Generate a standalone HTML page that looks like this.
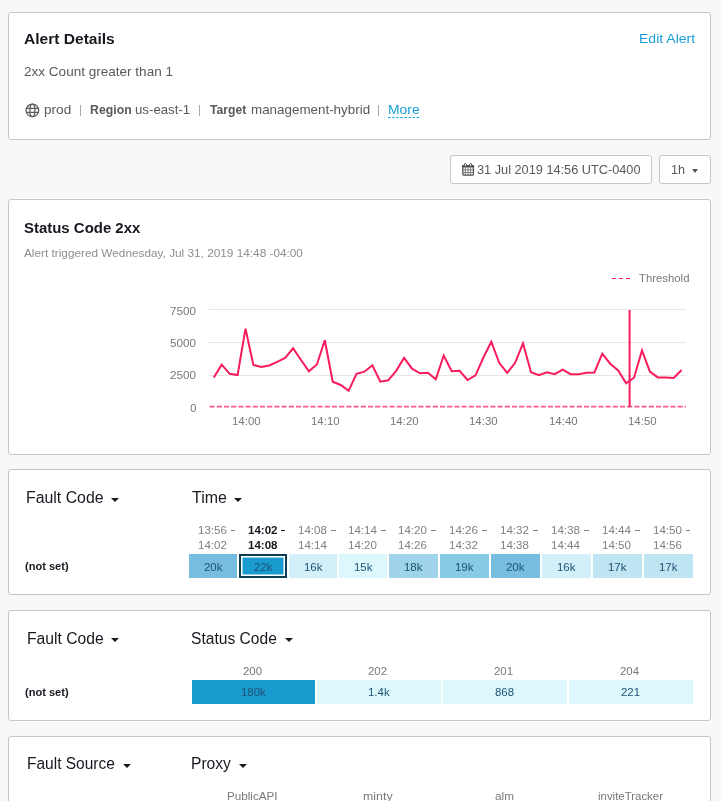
<!DOCTYPE html>
<html><head><meta charset="utf-8"><style>
html,body{margin:0;padding:0;}
body{width:721px;height:801px;overflow:hidden;background:#f7f8f8;position:relative;font-family:"Liberation Sans",sans-serif;}
.t{position:absolute;line-height:1;white-space:nowrap;}
</style></head><body><div id="root" style="position:absolute;left:0;top:0;width:721px;height:801px;will-change:transform">
<div style="position:absolute;left:8px;top:12px;width:703px;height:128px;background:#fff;border:1px solid #c6c6c6;border-radius:3px;box-sizing:border-box;"></div>
<div style="position:absolute;left:8px;top:199px;width:703px;height:256px;background:#fff;border:1px solid #c6c6c6;border-radius:3px;box-sizing:border-box;"></div>
<div style="position:absolute;left:8px;top:469px;width:703px;height:126px;background:#fff;border:1px solid #c6c6c6;border-radius:3px;box-sizing:border-box;"></div>
<div style="position:absolute;left:8px;top:610px;width:703px;height:111px;background:#fff;border:1px solid #c6c6c6;border-radius:3px;box-sizing:border-box;"></div>
<div style="position:absolute;left:8px;top:736px;width:703px;height:100px;background:#fff;border:1px solid #c6c6c6;border-radius:3px;box-sizing:border-box;"></div>
<div class="t" style="left:23.69px;top:31.25px;font-size:15px;color:#16191f;font-weight:700;transform:scaleX(1.0370);transform-origin:0 0;">Alert Details</div>
<div class="t" style="left:638.81px;top:32.25px;font-size:13px;color:#1a9fd6;transform:scaleX(1.0787);transform-origin:0 0;">Edit Alert</div>
<div class="t" style="left:23.63px;top:65.25px;font-size:13px;color:#595959;transform:scaleX(1.0412);transform-origin:0 0;">2xx Count greater than 1</div>
<svg style="position:absolute;left:22px;top:101px" width="20" height="20" viewBox="0 0 20 20"><g fill="none" stroke="#5a5a5a" stroke-width="1.25"><circle cx="10.4" cy="9.4" r="6.3"/><ellipse cx="10.4" cy="9.4" rx="2.5" ry="6.3"/><line x1="4.3" y1="7.4" x2="16.5" y2="7.4"/><line x1="4.3" y1="11.4" x2="16.5" y2="11.4"/></g></svg>
<div class="t" style="left:44.16px;top:103.25px;font-size:13px;color:#595959;transform:scaleX(1.0451);transform-origin:0 0;">prod</div>
<div style="position:absolute;left:80px;top:104.5px;width:1px;height:11.5px;background:#a9a9a9;"></div>
<div class="t" style="left:89.65px;top:103.25px;font-size:13px;color:#595959;font-weight:700;transform:scaleX(0.9456);transform-origin:0 0;">Region</div>
<div class="t" style="left:134.94px;top:103.25px;font-size:13px;color:#595959;transform:scaleX(1.0180);transform-origin:0 0;">us-east-1</div>
<div style="position:absolute;left:199px;top:104.5px;width:1px;height:11.5px;background:#a9a9a9;"></div>
<div class="t" style="left:209.91px;top:103.25px;font-size:13px;color:#595959;font-weight:700;transform:scaleX(0.9351);transform-origin:0 0;">Target</div>
<div class="t" style="left:250.77px;top:103.25px;font-size:13px;color:#595959;transform:scaleX(1.0299);transform-origin:0 0;">management-hybrid</div>
<div style="position:absolute;left:378px;top:104.5px;width:1px;height:11.5px;background:#a9a9a9;"></div>
<div class="t" style="left:387.82px;top:103.25px;font-size:13px;color:#1a9fd6;transform:scaleX(1.0714);transform-origin:0 0;">More</div>
<svg style="position:absolute;left:0;top:0" width="721" height="130"><line x1="388" y1="117.5" x2="419.5" y2="117.5" stroke="#16a8e6" stroke-width="1.2" stroke-dasharray="2.5,1.6"/></svg>
<div style="position:absolute;left:450px;top:155px;width:202px;height:29px;background:#fff;border:1px solid #c6c6c6;border-radius:3px;box-sizing:border-box;"></div>
<div style="position:absolute;left:659px;top:155px;width:52px;height:29px;background:#fff;border:1px solid #c6c6c6;border-radius:3px;box-sizing:border-box;"></div>
<svg style="position:absolute;left:459px;top:160px" width="20" height="20" viewBox="0 0 20 20"><g stroke="#4a4a4a" fill="none"><rect x="3.8" y="5.6" width="10.6" height="9.6" rx="1" stroke-width="1.2"/><g stroke-width="0.8" stroke="#666"><line x1="3.8" y1="9.8" x2="14.4" y2="9.8"/><line x1="3.8" y1="12.5" x2="14.4" y2="12.5"/><line x1="6.3" y1="7.5" x2="6.3" y2="15.2"/><line x1="9.0" y1="7.5" x2="9.0" y2="15.2"/><line x1="11.6" y1="7.5" x2="11.6" y2="15.2"/></g></g><rect x="3.2" y="5.0" width="11.8" height="2.6" fill="#4a4a4a" rx="0.8"/><ellipse cx="6.4" cy="5.0" rx="1.0" ry="1.6" fill="#fff" stroke="#4a4a4a" stroke-width="0.9"/><ellipse cx="11.7" cy="5.0" rx="1.0" ry="1.6" fill="#fff" stroke="#4a4a4a" stroke-width="0.9"/></svg>
<div class="t" style="left:477.01px;top:163.25px;font-size:13px;color:#595959;transform:scaleX(0.9795);transform-origin:0 0;">31 Jul 2019 14:56 UTC-0400</div>
<div class="t" style="left:670.83px;top:163.25px;font-size:13px;color:#595959;transform:scaleX(0.9683);transform-origin:0 0;">1h</div>
<div style="position:absolute;left:692px;top:169px;width:0;height:0;border-left:3.5px solid transparent;border-right:3.5px solid transparent;border-top:4px solid #555"></div>
<div class="t" style="left:23.80px;top:220.25px;font-size:15px;color:#16191f;font-weight:700;transform:scaleX(0.9966);transform-origin:0 0;">Status Code 2xx</div>
<div class="t" style="left:24.00px;top:247.75px;font-size:11px;color:#8a8f92;transform:scaleX(1.0724);transform-origin:0 0;">Alert triggered Wednesday, Jul 31, 2019 14:48 -04:00</div>
<div class="t" style="left:639.09px;top:272.75px;font-size:11px;color:#767879;transform:scaleX(1.0312);transform-origin:0 0;">Threshold</div>
<svg style="position:absolute;left:0;top:0" width="721" height="801">
<g stroke="#e6e6e6" stroke-width="1">
<line x1="209" y1="309.5" x2="686" y2="309.5"/><line x1="209" y1="342.5" x2="686" y2="342.5"/><line x1="209" y1="375.5" x2="686" y2="375.5"/>
</g>
<line x1="209.5" y1="406.6" x2="686" y2="406.6" stroke="#f91c5c" stroke-width="1.6" stroke-dasharray="5.2,2" opacity="0.72"/>
<line x1="611.8" y1="278.5" x2="630.5" y2="278.5" stroke="#f91c5c" stroke-width="1.2" stroke-dasharray="4,3.1"/>
<polyline points="213.8,377.5 221.7,364.7 229.7,373.8 237.6,375 245.5,328.7 253.4,365 261.4,367 269.3,365.5 277.2,361.8 285.2,358 293.1,348.3 301.0,360 308.9,371.3 316.9,364.5 324.8,340.3 332.7,381.7 340.7,385 348.6,390.8 356.5,373.8 364.5,371.7 372.4,365.3 380.3,381.7 388.2,380.3 396.2,370.8 404.1,357.8 412.0,368.7 420.0,373.3 427.9,372.8 435.8,379.2 443.7,355.5 451.7,371.3 459.6,370.8 467.5,380 475.5,375.3 483.4,357.5 491.3,341.7 499.2,362.8 507.2,372.8 515.1,362.8 523.0,343.3 531.0,372.2 538.9,375.2 546.8,372.2 554.7,374.2 562.7,369.7 570.6,374.2 578.5,374.2 586.5,372.8 594.4,372.5 602.3,353.7 610.2,363.7 618.2,370.5 626.1,383.3 634.0,377.7 642.0,350.5 649.9,371.5 657.8,377.4 665.8,377.6 673.7,378 681.6,370" fill="none" stroke="#f91c5c" stroke-width="2" stroke-linejoin="miter"/>
<line x1="629.6" y1="310" x2="629.6" y2="407" stroke="#f91c5c" stroke-width="2"/>
</svg>
<div class="t" style="left:170.45px;top:305.75px;font-size:11px;color:#767879;transform:scaleX(1.0600);transform-origin:0 0;">7500</div>
<div class="t" style="left:170.45px;top:337.75px;font-size:11px;color:#767879;transform:scaleX(1.0600);transform-origin:0 0;">5000</div>
<div class="t" style="left:170.45px;top:369.75px;font-size:11px;color:#767879;transform:scaleX(1.0600);transform-origin:0 0;">2500</div>
<div class="t" style="left:190.30px;top:402.75px;font-size:11px;color:#767879;">0</div>
<div class="t" style="left:231.59px;top:415.75px;font-size:11px;color:#767879;transform:scaleX(1.0400);transform-origin:0 0;">14:00</div>
<div class="t" style="left:310.88px;top:415.75px;font-size:11px;color:#767879;transform:scaleX(1.0400);transform-origin:0 0;">14:10</div>
<div class="t" style="left:390.17px;top:415.75px;font-size:11px;color:#767879;transform:scaleX(1.0400);transform-origin:0 0;">14:20</div>
<div class="t" style="left:469.46px;top:415.75px;font-size:11px;color:#767879;transform:scaleX(1.0400);transform-origin:0 0;">14:30</div>
<div class="t" style="left:548.75px;top:415.75px;font-size:11px;color:#767879;transform:scaleX(1.0400);transform-origin:0 0;">14:40</div>
<div class="t" style="left:628.04px;top:415.75px;font-size:11px;color:#767879;transform:scaleX(1.0400);transform-origin:0 0;">14:50</div>
<div class="t" style="left:26.41px;top:489.75px;font-size:16px;color:#16191f;transform:scaleX(0.9908);transform-origin:0 0;">Fault Code</div>
<div class="t" style="left:191.70px;top:489.75px;font-size:16px;color:#16191f;transform:scaleX(0.9941);transform-origin:0 0;">Time</div>
<div style="position:absolute;left:111.3px;top:498px;width:0;height:0;border-left:4.0px solid transparent;border-right:4.0px solid transparent;border-top:4.2px solid #16191f"></div>
<div style="position:absolute;left:234px;top:498px;width:0;height:0;border-left:4.0px solid transparent;border-right:4.0px solid transparent;border-top:4.2px solid #16191f"></div>
<div class="t" style="left:25.30px;top:560.75px;font-size:11px;color:#16191f;font-weight:700;transform:scaleX(1.0047);transform-origin:0 0;">(not set)</div>
<div style="position:absolute;left:189px;top:554px;width:48px;height:24px;background:#76bde0;"></div>
<div class="t" style="left:197.66px;top:524.75px;font-size:11px;color:#7d8183;transform:scaleX(1.0500);transform-origin:0 0;">13:56</div>
<div style="position:absolute;left:230.8px;top:530px;width:4.5px;height:1px;background:#7d8183;"></div>
<div class="t" style="left:197.66px;top:539.75px;font-size:11px;color:#7d8183;transform:scaleX(1.0500);transform-origin:0 0;">14:02</div>
<div class="t" style="left:203.54px;top:561.75px;font-size:11px;color:#1d5272;transform:scaleX(1.0400);transform-origin:0 0;">20k</div>
<div style="position:absolute;left:239px;top:554px;width:48.2px;height:24px;background:#1a9bd0;"></div>
<div class="t" style="left:247.76px;top:524.75px;font-size:11px;color:#16191f;font-weight:700;transform:scaleX(1.0500);transform-origin:0 0;">14:02</div>
<div style="position:absolute;left:280.8px;top:529.8px;width:4.5px;height:1.6px;background:#16191f;"></div>
<div class="t" style="left:247.76px;top:539.75px;font-size:11px;color:#16191f;font-weight:700;transform:scaleX(1.0500);transform-origin:0 0;">14:08</div>
<div class="t" style="left:253.64px;top:561.75px;font-size:11px;color:#1d5272;transform:scaleX(1.0400);transform-origin:0 0;">22k</div>
<div style="position:absolute;left:289.3px;top:554px;width:47.7px;height:24px;background:#d3effa;"></div>
<div class="t" style="left:297.96px;top:524.75px;font-size:11px;color:#7d8183;transform:scaleX(1.0500);transform-origin:0 0;">14:08</div>
<div style="position:absolute;left:331.1px;top:530px;width:4.5px;height:1px;background:#7d8183;"></div>
<div class="t" style="left:297.96px;top:539.75px;font-size:11px;color:#7d8183;transform:scaleX(1.0500);transform-origin:0 0;">14:14</div>
<div class="t" style="left:303.53px;top:561.75px;font-size:11px;color:#1d5272;transform:scaleX(1.0400);transform-origin:0 0;">16k</div>
<div style="position:absolute;left:339.2px;top:554px;width:48.0px;height:24px;background:#ddf8fd;"></div>
<div class="t" style="left:347.86px;top:524.75px;font-size:11px;color:#7d8183;transform:scaleX(1.0500);transform-origin:0 0;">14:14</div>
<div style="position:absolute;left:381.0px;top:530px;width:4.5px;height:1px;background:#7d8183;"></div>
<div class="t" style="left:347.86px;top:539.75px;font-size:11px;color:#7d8183;transform:scaleX(1.0500);transform-origin:0 0;">14:20</div>
<div class="t" style="left:353.58px;top:561.75px;font-size:11px;color:#1d5272;transform:scaleX(1.0400);transform-origin:0 0;">15k</div>
<div style="position:absolute;left:389.2px;top:554px;width:48.8px;height:24px;background:#9ed3ea;"></div>
<div class="t" style="left:397.86px;top:524.75px;font-size:11px;color:#7d8183;transform:scaleX(1.0500);transform-origin:0 0;">14:20</div>
<div style="position:absolute;left:431.0px;top:530px;width:4.5px;height:1px;background:#7d8183;"></div>
<div class="t" style="left:397.86px;top:539.75px;font-size:11px;color:#7d8183;transform:scaleX(1.0500);transform-origin:0 0;">14:26</div>
<div class="t" style="left:403.98px;top:561.75px;font-size:11px;color:#1d5272;transform:scaleX(1.0400);transform-origin:0 0;">18k</div>
<div style="position:absolute;left:440.3px;top:554px;width:48.5px;height:24px;background:#88c9e6;"></div>
<div class="t" style="left:448.96px;top:524.75px;font-size:11px;color:#7d8183;transform:scaleX(1.0500);transform-origin:0 0;">14:26</div>
<div style="position:absolute;left:482.1px;top:530px;width:4.5px;height:1px;background:#7d8183;"></div>
<div class="t" style="left:448.96px;top:539.75px;font-size:11px;color:#7d8183;transform:scaleX(1.0500);transform-origin:0 0;">14:32</div>
<div class="t" style="left:454.93px;top:561.75px;font-size:11px;color:#1d5272;transform:scaleX(1.0400);transform-origin:0 0;">19k</div>
<div style="position:absolute;left:491.3px;top:554px;width:48.7px;height:24px;background:#76bde0;"></div>
<div class="t" style="left:499.96px;top:524.75px;font-size:11px;color:#7d8183;transform:scaleX(1.0500);transform-origin:0 0;">14:32</div>
<div style="position:absolute;left:533.1px;top:530px;width:4.5px;height:1px;background:#7d8183;"></div>
<div class="t" style="left:499.96px;top:539.75px;font-size:11px;color:#7d8183;transform:scaleX(1.0500);transform-origin:0 0;">14:38</div>
<div class="t" style="left:506.19px;top:561.75px;font-size:11px;color:#1d5272;transform:scaleX(1.0400);transform-origin:0 0;">20k</div>
<div style="position:absolute;left:542.3px;top:554px;width:48.7px;height:24px;background:#d3effa;"></div>
<div class="t" style="left:550.96px;top:524.75px;font-size:11px;color:#7d8183;transform:scaleX(1.0500);transform-origin:0 0;">14:38</div>
<div style="position:absolute;left:584.1px;top:530px;width:4.5px;height:1px;background:#7d8183;"></div>
<div class="t" style="left:550.96px;top:539.75px;font-size:11px;color:#7d8183;transform:scaleX(1.0500);transform-origin:0 0;">14:44</div>
<div class="t" style="left:557.03px;top:561.75px;font-size:11px;color:#1d5272;transform:scaleX(1.0400);transform-origin:0 0;">16k</div>
<div style="position:absolute;left:593.2px;top:554px;width:48.8px;height:24px;background:#bfe5f3;"></div>
<div class="t" style="left:601.86px;top:524.75px;font-size:11px;color:#7d8183;transform:scaleX(1.0500);transform-origin:0 0;">14:44</div>
<div style="position:absolute;left:635.0px;top:530px;width:4.5px;height:1px;background:#7d8183;"></div>
<div class="t" style="left:601.86px;top:539.75px;font-size:11px;color:#7d8183;transform:scaleX(1.0500);transform-origin:0 0;">14:50</div>
<div class="t" style="left:607.98px;top:561.75px;font-size:11px;color:#1d5272;transform:scaleX(1.0400);transform-origin:0 0;">17k</div>
<div style="position:absolute;left:644.1px;top:554px;width:48.8px;height:24px;background:#bfe5f3;"></div>
<div class="t" style="left:652.76px;top:524.75px;font-size:11px;color:#7d8183;transform:scaleX(1.0500);transform-origin:0 0;">14:50</div>
<div style="position:absolute;left:685.9px;top:530px;width:4.5px;height:1px;background:#7d8183;"></div>
<div class="t" style="left:652.76px;top:539.75px;font-size:11px;color:#7d8183;transform:scaleX(1.0500);transform-origin:0 0;">14:56</div>
<div class="t" style="left:658.88px;top:561.75px;font-size:11px;color:#1d5272;transform:scaleX(1.0400);transform-origin:0 0;">17k</div>
<div style="position:absolute;left:239px;top:554px;width:48.2px;height:24px;border:2px solid #0d3c55;box-sizing:border-box;box-shadow:inset 0 0 0 1.5px #fff;"></div>
<div class="t" style="left:26.73px;top:630.75px;font-size:16px;color:#16191f;transform:scaleX(0.9803);transform-origin:0 0;">Fault Code</div>
<div class="t" style="left:191.02px;top:630.75px;font-size:16px;color:#16191f;transform:scaleX(0.9746);transform-origin:0 0;">Status Code</div>
<div style="position:absolute;left:111.3px;top:638px;width:0;height:0;border-left:4.0px solid transparent;border-right:4.0px solid transparent;border-top:4.2px solid #16191f"></div>
<div style="position:absolute;left:285px;top:638px;width:0;height:0;border-left:4.0px solid transparent;border-right:4.0px solid transparent;border-top:4.2px solid #16191f"></div>
<div class="t" style="left:25.30px;top:686.75px;font-size:11px;color:#16191f;font-weight:700;transform:scaleX(1.0047);transform-origin:0 0;">(not set)</div>
<div style="position:absolute;left:192px;top:680px;width:123px;height:24px;background:#1a9bd0;"></div>
<div class="t" style="left:242.93px;top:665.75px;font-size:11px;color:#767879;transform:scaleX(1.0400);transform-origin:0 0;">200</div>
<div class="t" style="left:240.66px;top:686.75px;font-size:11px;color:#1d5272;transform:scaleX(1.0400);transform-origin:0 0;">180k</div>
<div style="position:absolute;left:317px;top:680px;width:124px;height:24px;background:#ddf8fd;"></div>
<div class="t" style="left:368.48px;top:665.75px;font-size:11px;color:#767879;transform:scaleX(1.0400);transform-origin:0 0;">202</div>
<div class="t" style="left:367.77px;top:686.75px;font-size:11px;color:#1d5272;transform:scaleX(1.0400);transform-origin:0 0;">1.4k</div>
<div style="position:absolute;left:443px;top:680px;width:124px;height:24px;background:#ddf8fd;"></div>
<div class="t" style="left:494.48px;top:665.75px;font-size:11px;color:#767879;transform:scaleX(1.0400);transform-origin:0 0;">201</div>
<div class="t" style="left:495.48px;top:686.75px;font-size:11px;color:#1d5272;transform:scaleX(1.0400);transform-origin:0 0;">868</div>
<div style="position:absolute;left:569px;top:680px;width:124px;height:24px;background:#ddf8fd;"></div>
<div class="t" style="left:620.38px;top:665.75px;font-size:11px;color:#767879;transform:scaleX(1.0400);transform-origin:0 0;">204</div>
<div class="t" style="left:621.48px;top:686.75px;font-size:11px;color:#1d5272;transform:scaleX(1.0400);transform-origin:0 0;">221</div>
<div class="t" style="left:27.04px;top:755.75px;font-size:16px;color:#16191f;transform:scaleX(0.9684);transform-origin:0 0;">Fault Source</div>
<div class="t" style="left:190.83px;top:755.75px;font-size:16px;color:#16191f;transform:scaleX(0.9747);transform-origin:0 0;">Proxy</div>
<div style="position:absolute;left:123px;top:764px;width:0;height:0;border-left:4.0px solid transparent;border-right:4.0px solid transparent;border-top:4.2px solid #16191f"></div>
<div style="position:absolute;left:238.5px;top:764px;width:0;height:0;border-left:4.0px solid transparent;border-right:4.0px solid transparent;border-top:4.2px solid #16191f"></div>
<div class="t" style="left:227.44px;top:790.75px;font-size:11px;color:#767879;transform:scaleX(1.0611);transform-origin:0 0;">PublicAPI</div>
<div class="t" style="left:363.21px;top:790.75px;font-size:11px;color:#767879;transform:scaleX(1.1250);transform-origin:0 0;">minty</div>
<div class="t" style="left:495.26px;top:790.75px;font-size:11px;color:#767879;transform:scaleX(1.0727);transform-origin:0 0;">alm</div>
<div class="t" style="left:597.67px;top:790.75px;font-size:11px;color:#767879;transform:scaleX(1.0389);transform-origin:0 0;">inviteTracker</div>
</div></body></html>
